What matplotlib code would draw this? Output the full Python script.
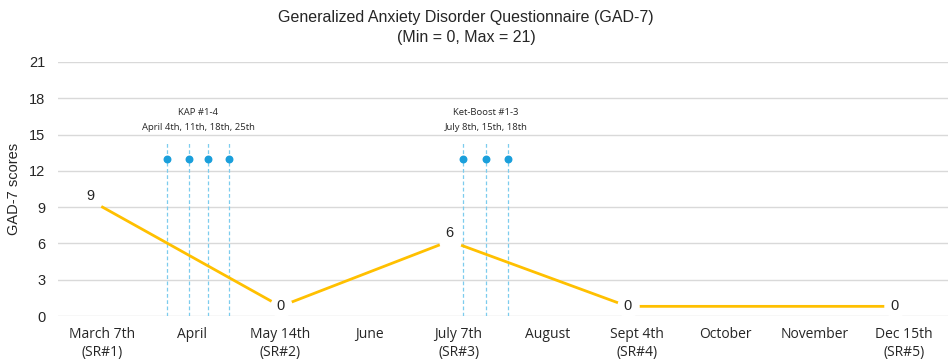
import matplotlib
matplotlib.use("Agg")
import matplotlib.pyplot as plt

# Data
months = ["March 7th\n(SR#1)", "April", "May 14th\n(SR#2)", "June", "July 7th\n(SR#3)",
          "August", "Sept 4th\n(SR#4)", "October", "November", "Dec 15th\n(SR#5)"]
score_pos = [0, 2, 3.9, 5.9, 8.9]
score_plot = [9, 0.8, 6.2, 0.8, 0.8]
score_labels = ["9", "0", "6", "0", "0"]

kap_pos = [0.72, 0.97, 1.19, 1.42]
boost_pos = [4.05, 4.31, 4.55]
session_y = 13
session_top = 14.3

kap_text = "KAP #1-4\nApril 4th, 11th, 18th, 25th"
boost_text = "Ket-Boost #1-3\nJuly 8th, 15th, 18th"

yticks = [0, 3, 6, 9, 12, 15, 18, 21]

plt.rcParams['font.family'] = ['Open Sans', 'DejaVu Sans']
arial = ['Liberation Sans', 'DejaVu Sans']

fig = plt.figure(figsize=(9.51, 3.62), dpi=100)
ax = fig.add_axes([0.061, 0.127, 0.936, 0.702])

line_color = '#FFC000'
dot_color = '#1A9FDB'
dash_color = '#7CCCEE'
text_color = '#262626'

# Session markers (dashed verticals + dots)
for x in kap_pos + boost_pos:
    ax.plot([x, x], [0, session_top], color=dash_color, linestyle=(0, (3, 2)),
            linewidth=0.9, zorder=1)
ax.scatter(kap_pos + boost_pos, [session_y] * (len(kap_pos) + len(boost_pos)),
           s=22, color=dot_color, zorder=4)

# Score line
ax.plot(score_pos, score_plot, color=line_color, linewidth=2, zorder=2)
ax.scatter(score_pos[1:], score_plot[1:], s=230, color='white', zorder=3)

label_offsets = [(-9, 8), (0, 0), (0, 6), (0, 0), (0, 0)]
for x, y, lab, off in zip(score_pos, score_plot, score_labels, label_offsets):
    ax.annotate(lab, (x, y), xytext=off, textcoords='offset points',
                ha='center', va='center', fontsize=10.5, color=text_color,
                family=arial, zorder=5)

# Annotations for sessions
ax.text(sum(kap_pos) / len(kap_pos), 16.2, kap_text, ha='center', va='center',
        fontsize=6.8, color=text_color, linespacing=1.8)
ax.text(boost_pos[1], 16.2, boost_text, ha='center', va='center',
        fontsize=6.8, color=text_color, linespacing=1.8)

ax.set_xlim(-0.5, 9.5)
ax.set_ylim(0, 21)
ax.set_yticks(yticks)
ax.set_yticklabels([str(t) for t in yticks], family=arial)
ax.set_xticks(range(len(months)))
ax.set_xticklabels(months, fontsize=10, color=text_color, linespacing=1.3)
ax.tick_params(axis='y', labelsize=10.5, labelcolor=text_color, length=0, pad=9)
ax.tick_params(axis='x', length=0, pad=8)
ax.grid(axis='y', color='#D9D9D9', linewidth=1)
ax.set_axisbelow(True)
for s in ax.spines.values():
    s.set_visible(False)

ax.set_ylabel('GAD-7 scores', fontsize=10.5, color=text_color, family=arial)
ax.yaxis.set_label_coords(-0.042, 0.5)
fig.text(0.49, 0.924, "Generalized Anxiety Disorder Questionnaire (GAD-7)\n(Min = 0, Max = 21)",
         ha='center', va='center', fontsize=11.5, color=text_color, family=arial,
         linespacing=1.35)

fig.savefig('out.png', dpi=100)
